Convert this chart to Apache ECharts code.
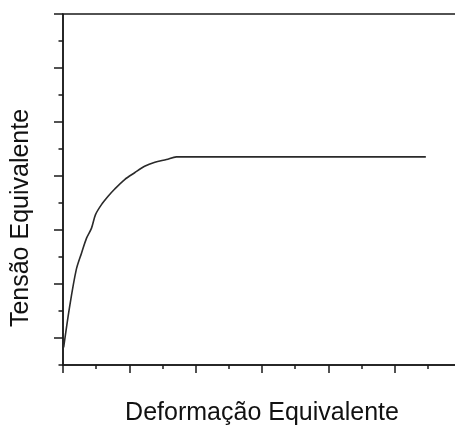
<!DOCTYPE html>
<html><head><meta charset="utf-8">
<script src="https://cdn.jsdelivr.net/npm/echarts@6/dist/echarts.min.js"></script>
<style>html,body{margin:0;padding:0;background:#fff}#c{width:455px;height:427px}</style>
</head><body><div id="c"></div>
<script>
const strain = [0.02, 0.20, 0.40, 0.56, 0.71, 0.86, 0.98, 1.16, 1.36, 1.56, 1.86, 2.16, 2.46, 2.77, 3.12, 3.42, 4.58, 10.94];
const stress = [0.65, 2.16, 3.53, 4.15, 4.70, 5.07, 5.57, 5.94, 6.25, 6.52, 6.87, 7.12, 7.36, 7.51, 7.61, 7.71, 7.71, 7.71];
const xTitle = 'Deformação Equivalente';
const yTitle = 'Tensão Equivalente';

const chart = echarts.init(document.getElementById('c'), null, {renderer: 'canvas'});
const axisColor = '#1a1a1a';
const font = 'Liberation Sans, Arial, sans-serif';
chart.setOption({
  animation: false,
  backgroundColor: '#fff',
  grid: [
    {left: 63, top: 14, width: 398, height: 351, outerBoundsMode: 'none', containLabel: false, show: true, borderColor: axisColor, borderWidth: 1.5, backgroundColor: 'transparent'},
    {left: 63, top: 14, width: 398, height: 324, outerBoundsMode: 'none', containLabel: false, show: false}
  ],
  xAxis: [
    {type: 'value', gridIndex: 0, min: 0, max: 12, interval: 2,
     axisLine: {show: true, lineStyle: {color: axisColor, width: 1.5}},
     axisTick: {show: true, length: 8, lineStyle: {color: axisColor, width: 1.5}},
     minorTick: {show: true, splitNumber: 2, length: 4, lineStyle: {color: axisColor, width: 1.5}},
     axisLabel: {show: false}, splitLine: {show: false},
     name: xTitle, nameLocation: 'middle', nameGap: 36,
     nameTextStyle: {fontFamily: font, fontSize: 25, color: '#111'}},
    {type: 'value', gridIndex: 1, min: 0, max: 12, show: false}
  ],
  yAxis: [
    {type: 'value', gridIndex: 0, min: 0, max: 13, interval: 1,
     axisLine: {show: true, lineStyle: {color: axisColor, width: 1.5}},
     axisTick: {show: true, length: 4.5, lineStyle: {color: axisColor, width: 1.5}},
     axisLabel: {show: false}, splitLine: {show: false}},
    {type: 'value', gridIndex: 1, min: 1, max: 13, interval: 2,
     axisLine: {show: false},
     axisTick: {show: true, length: 9, lineStyle: {color: axisColor, width: 1.5}},
     axisLabel: {show: false}, splitLine: {show: false}}
  ],
  graphic: [{
    type: 'text', x: 21, y: 218, rotation: Math.PI / 2,
    style: {text: yTitle, font: '25px ' + font, fill: '#111', align: 'center', verticalAlign: 'middle'}
  }],
  series: [{
    type: 'line', xAxisIndex: 0, yAxisIndex: 0,
    data: strain.map((x, i) => [x, stress[i]]),
    showSymbol: false, smooth: 0.3,
    lineStyle: {color: '#2a2a2a', width: 1.6}
  }]
});
</script></body></html>
